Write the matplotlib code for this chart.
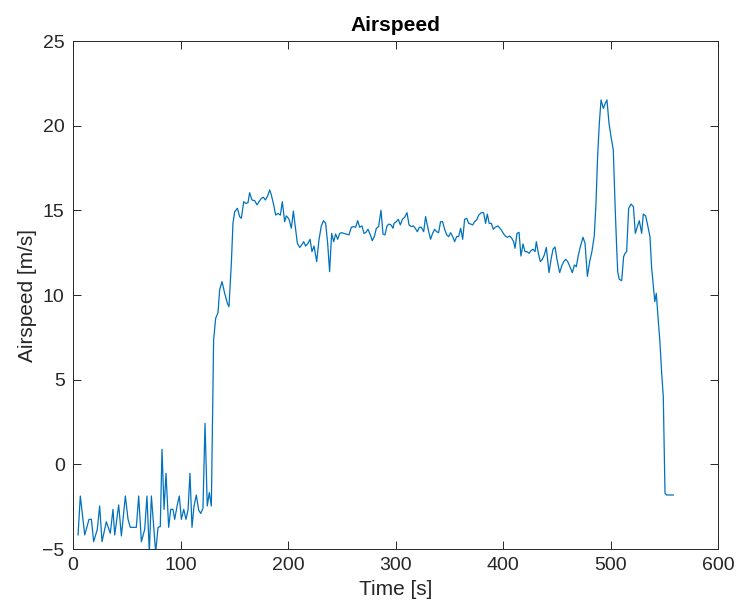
import matplotlib
matplotlib.use("Agg")
import matplotlib.pyplot as plt

plt.rcParams['font.family'] = ['Liberation Sans', 'DejaVu Sans']

time_s = [
    4.7, 6.8, 10.9, 14.9, 17.1, 19.2, 22.6, 24.8, 27.0, 31.0, 34.7, 37.2, 38.8, 42.5, 45.0,
    48.7, 51.2, 53.3, 55.8, 58.9, 61.1, 63.6, 66.7, 68.8, 71.0, 72.9, 76.9, 79.1, 81.2, 82.8,
    84.7, 86.5, 89.0, 90.9, 93.0, 94.6, 97.0, 98.9, 100.8, 103.0, 105.1, 107.0, 108.8, 110.7,
    112.5, 114.7, 116.9, 118.8, 120.9, 122.8, 124.9, 126.8, 128.7, 130.8, 132.7, 134.9, 136.4,
    138.6, 141.1, 143.6, 145.1, 147.3, 148.8, 150.4, 152.9, 155.0, 156.6, 158.8, 160.6, 162.8,
    164.3, 166.5, 169.0, 171.2, 173.0, 175.2, 177.1, 178.9, 180.8, 183.0, 184.5, 186.7, 188.5,
    190.7, 192.9, 194.7, 196.9, 198.4, 199.1, 201.0, 203.1, 205.0, 206.8, 208.7, 210.9, 212.7,
    214.6, 216.4, 218.6, 220.5, 222.3, 224.2, 226.7, 228.8, 231.0, 233.1, 235.0, 236.9, 238.7,
    240.6, 242.5, 244.3, 246.2, 248.1, 249.9, 251.8, 254.2, 256.7, 258.9, 261.1, 262.9, 264.8,
    266.7, 268.8, 270.7, 272.2, 274.4, 276.6, 278.4, 280.3, 282.2, 284.3, 286.5, 288.4, 290.2,
    292.1, 294.0, 295.8, 297.7, 298.6, 300.8, 302.6, 304.5, 306.4, 308.5, 310.7, 312.6, 314.7,
    316.6, 318.4, 320.3, 322.2, 324.0, 326.2, 328.0, 330.2, 332.6, 334.5, 336.4, 338.2, 340.1,
    341.9, 343.8, 345.7, 347.6, 349.4, 351.3, 353.2, 355.0, 356.9, 358.7, 360.6, 362.5, 364.3,
    366.2, 368.1, 369.9, 371.8, 373.6, 375.5, 377.4, 379.8, 382.0, 383.8, 385.4, 387.2, 389.1,
    391.0, 392.8, 395.3, 396.3, 398.4, 400.3, 402.2, 404.0, 406.2, 408.1, 409.9, 411.2, 413.0,
    414.9, 416.7, 418.6, 420.5, 422.3, 424.2, 426.0, 427.9, 429.8, 431.0, 432.9, 434.7, 436.6,
    438.4, 440.3, 442.8, 444.7, 446.5, 448.4, 450.2, 452.7, 454.6, 456.4, 458.3, 460.2, 462.0,
    464.5, 466.4, 468.2, 470.1, 471.9, 474.4, 476.3, 478.5, 480.7, 482.8, 484.9, 486.5, 488.0,
    489.6, 491.2, 493.3, 494.9, 496.7, 498.6, 500.5, 502.6, 504.2, 505.7, 506.7, 508.2, 510.4,
    512.2, 513.5, 515.0, 516.9, 519.1, 521.3, 523.1, 525.0, 526.8, 529.0, 530.5, 532.7, 534.5,
    536.7, 538.2, 539.8, 541.2, 542.6, 544.3, 546.0, 547.6, 549.1, 550.7, 552.2, 558.4,
]

airspeed = [
    -4.17, -1.87, -4.17, -3.25, -3.25, -4.57, -3.84, -2.46, -4.57, -3.39, -4.07, -2.66, -4.17, -2.4, -4.23,
    -1.87, -3.25, -3.72, -3.72, -3.72, -1.87, -4.57, -3.84, -1.87, -5.2, -1.87, -5.2, -3.72, -3.68, 0.89,
    -2.66, -0.53, -3.72, -2.66, -2.66, -3.25, -2.4, -1.87, -3.25, -2.66, -3.25, -2.70, -0.53, -3.72,
    -2.5, -1.81, -2.70, -2.9, -2.6, 2.42, -2.46, -1.67, -2.46, 7.34, 8.62, 8.96, 10.3,
    10.79, 10.1, 9.51, 9.31, 11.87, 14.23, 14.92, 15.12, 14.63, 14.53, 15.51, 15.41, 15.45,
    16.04, 15.61, 15.57, 15.32, 15.51, 15.71, 15.77, 15.61, 15.81, 16.2, 15.91, 15.32, 14.72,
    14.82, 14.72, 15.51, 14.33, 14.67, 14.63, 14.47, 13.94, 14.96, 14.04, 13.05, 12.81, 12.95,
    13.15, 12.89, 13.05, 13.29, 12.56, 12.89, 11.97, 13.25, 14.08, 14.39, 14.23, 13.05, 11.38,
    13.64, 13.15, 13.6, 13.29, 13.64, 13.68, 13.64, 13.6, 13.55, 14.0, 14.04, 14.0, 14.39,
    14.0, 14.08, 13.64, 13.68, 13.88, 13.55, 13.21, 13.45, 13.94, 14.04, 15.0, 13.6, 13.55,
    14.08, 14.19, 14.14, 13.94, 14.23, 14.33, 14.47, 14.14, 14.47, 14.59, 14.86, 14.14, 14.04,
    14.08, 13.94, 13.74, 14.0, 14.0, 13.74, 14.63, 13.94, 13.29, 13.64, 13.88, 13.74, 13.68,
    14.33, 14.33, 13.88, 13.55, 13.45, 13.68, 13.45, 13.15, 13.45, 13.45, 13.94, 13.29, 14.47,
    14.53, 14.23, 14.19, 14.14, 14.33, 14.43, 14.72, 14.86, 14.86, 14.23, 14.78, 14.23, 14.23,
    13.88, 14.0, 14.08, 14.0, 13.84, 13.64, 13.48, 13.41, 13.48, 13.35, 13.15, 12.76, 13.64,
    13.7, 12.3, 13.01, 12.56, 12.56, 12.46, 12.62, 12.7, 12.56, 13.15, 12.46, 11.97, 12.11,
    12.36, 12.81, 11.32, 12.09, 12.7, 12.84, 12.11, 11.32, 11.71, 11.97, 12.11, 11.97, 11.71,
    11.32, 11.77, 11.67, 12.36, 12.84, 13.41, 13.05, 11.1, 12.0, 12.6, 13.5, 15.41, 18.17,
    20.14, 21.52, 21.02, 21.28, 21.52, 20.14, 19.35, 18.56, 15.41, 12.85, 11.38, 10.92, 10.85,
    12.26, 12.46, 12.56, 15.12, 15.37, 15.22, 13.64, 14.04, 14.39, 13.64, 14.78, 14.67, 14.14,
    13.45, 11.67, 10.6, 9.61, 10.1, 8.6, 7.2, 5.4, 4.0, -1.71, -1.81, -1.81,
]

x_ticks = [0, 100, 200, 300, 400, 500, 600]
y_ticks = [-5, 0, 5, 10, 15, 20, 25]

fig = plt.figure(figsize=(7.39, 6.14), dpi=100)
ax = fig.add_axes([73/739, 1 - 549/614, (718 - 73)/739, (549 - 41)/614])
ax.plot(time_s, airspeed, color='#0072BD', linewidth=0.9)

ax.set_xlim(0, 600)
ax.set_ylim(-5, 25)
ax.set_xticks(x_ticks)
ax.set_yticks(y_ticks)

axcol = '#262626'
for s in ax.spines.values():
    s.set_color(axcol)
    s.set_linewidth(0.7)
ax.tick_params(direction='in', length=6, width=0.7, colors=axcol, labelsize=14,
               top=True, right=True, pad=6)
ax.set_xlabel('Time [s]', fontsize=15, color=axcol)
ax.set_ylabel('Airspeed [m/s]', fontsize=15, color=axcol)
ax.set_title('Airspeed', fontsize=15, fontweight='bold', color='black', pad=7)

fig.savefig('out.png', dpi=100)
